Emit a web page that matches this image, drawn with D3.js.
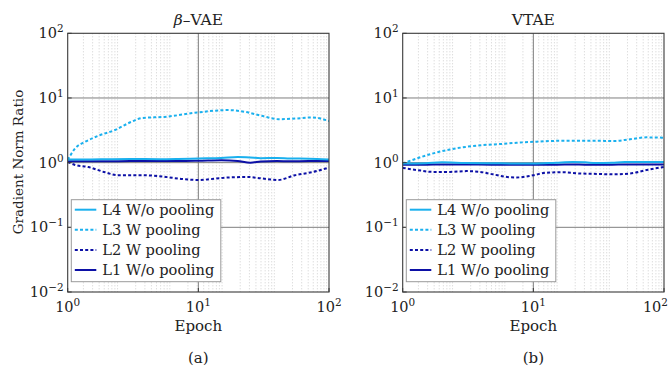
<!DOCTYPE html>
<html><head><meta charset="utf-8">
<script src="https://cdn.jsdelivr.net/npm/d3@7"></script>
<style>
body{margin:0;background:#fff;}
svg{display:block;}
text{font-family:"DejaVu Serif",serif;fill:#222;}
</style></head>
<body><svg id="c" width="669" height="371"></svg>
<script>
// ---- data ----
const panelTitles = ["β–VAE", "VTAE"];
const panelCaptions = ["(a)", "(b)"];
const seriesNames = ["L4 W/o pooling", "L3 W pooling", "L2 W pooling", "L1 W/o pooling"];
const yTickValues = [1e-2, 1e-1, 1e0, 1e1, 1e2];
const xTickValues = [1e0, 1e1, 1e2];

// beta-VAE
const betaL4Epochs = [1,1.5,2,3,5,7,10,15,20,25,30,40,50,70,100];
const betaL4 = [1.12,1.12,1.13,1.14,1.13,1.14,1.16,1.18,1.22,1.2,1.17,1.18,1.16,1.15,1.12];
const betaL3Epochs = [1,1.14,1.36,1.71,2.3,3.09,3.7,5.5,10,16.9,22.7,30.5,40.9,54.8,73.6,100];
const betaL3 = [1.1,1.66,2.1,2.6,3.2,4.3,4.9,5.1,6.0,6.5,6.1,5.3,4.7,4.8,5.0,4.4];
const betaL2Epochs = [1,1.14,1.44,1.93,2.44,3.7,5.5,7.4,10,16.9,24,30.5,40.9,54.8,73.6,100];
const betaL2 = [1.03,0.92,0.855,0.71,0.64,0.64,0.605,0.56,0.54,0.59,0.6,0.57,0.54,0.64,0.71,0.84];
const betaL1Epochs = [1,1.5,2,3,5,7,10,15,20,25,30,40,50,70,100];
const betaL1 = [1.05,1.05,1.05,1.06,1.06,1.06,1.07,1.09,1.06,1.0,1.04,1.06,1.05,1.06,1.06];

// VTAE
const vtaeL4Epochs = [1,1.5,2,3,5,7,10,15,20,25,30,40,50,70,100];
const vtaeL4 = [0.97,0.98,1.01,0.99,0.98,0.97,0.97,1.0,1.02,1.01,0.99,1.0,1.02,1.02,1.02];
const vtaeL3Epochs = [1,1.28,1.71,2.3,3.09,4.14,5.55,7.45,10,16.9,30.5,41,55,73.6,100];
const vtaeL3 = [0.97,1.16,1.39,1.6,1.76,1.87,1.94,2.03,2.1,2.18,2.18,2.16,2.3,2.46,2.43];
const vtaeL2Epochs = [1,1.28,1.71,2.3,3.09,3.9,4.9,6.3,7.45,10,12.6,16.9,22.7,30.5,41,55,73.6,100];
const vtaeL2 = [0.83,0.77,0.72,0.72,0.74,0.72,0.66,0.6,0.59,0.64,0.7,0.71,0.68,0.67,0.66,0.68,0.77,0.86];
const vtaeL1Epochs = [1,1.5,2,3,5,7,10,15,20,25,30,40,50,70,100];
const vtaeL1 = [0.93,0.93,0.94,0.94,0.93,0.93,0.93,0.93,0.94,0.93,0.93,0.93,0.94,0.94,0.94];

// ---- styles ----
const lightBlue = "#1ab0ee", darkBlue = "#0c10a6";
const seriesStyles = [
  {color: lightBlue, dash: null},
  {color: lightBlue, dash: "3,2.2"},
  {color: darkBlue, dash: "3,2.2"},
  {color: darkBlue, dash: null}
];
const panels = [
  {left: 67.7, data: [[betaL4Epochs,betaL4],[betaL3Epochs,betaL3],[betaL2Epochs,betaL2],[betaL1Epochs,betaL1]]},
  {left: 402.7, data: [[vtaeL4Epochs,vtaeL4],[vtaeL3Epochs,vtaeL3],[vtaeL2Epochs,vtaeL2],[vtaeL1Epochs,vtaeL1]]}
];
const W = 261.3, plotTop = 33.3, plotBottom = 292;

const svg = d3.select("#c");

function sup(sel, base, exp) {
  sel.append("tspan").text(base);
  sel.append("tspan").attr("dy", -6).attr("font-size", "0.72em").text(exp);
}
function expStr(v){ const e = Math.round(Math.log10(v)); return e < 0 ? "−" + (-e) : String(e); }

panels.forEach((p, pi) => {
  const x = d3.scaleLog().domain([1, 100]).range([p.left, p.left + W]);
  const y = d3.scaleLog().domain([1e-2, 1e2]).range([plotBottom, plotTop]);
  const g = svg.append("g");
  const clipId = "clip" + pi;
  svg.append("clipPath").attr("id", clipId).append("rect")
    .attr("x", p.left).attr("y", plotTop).attr("width", W).attr("height", plotBottom - plotTop);

  // minor grid (dotted) — sub-grid of a finer log scale
  const xMinor = d3.scaleLog().domain([1, 1e5]).range([p.left, p.left + W]);
  const minorVals = [];
  for (let j = 0; j < 5; j++) for (let k = 2; k <= 9; k++) minorVals.push(k * Math.pow(10, j));
  g.selectAll(".mg").data(minorVals).enter().append("line")
    .attr("x1", d => xMinor(d)).attr("x2", d => xMinor(d))
    .attr("y1", plotTop).attr("y2", plotBottom)
    .attr("stroke", "#c4c4c4").attr("stroke-width", 0.8).attr("stroke-dasharray", "1,2");

  // major grid
  g.selectAll(".gx").data([10]).enter().append("line")
    .attr("x1", d => x(d)).attr("x2", d => x(d)).attr("y1", plotTop).attr("y2", plotBottom)
    .attr("stroke", "#707070").attr("stroke-width", 0.9);
  g.selectAll(".gy").data([1e-1, 1e0, 1e1]).enter().append("line")
    .attr("y1", d => y(d)).attr("y2", d => y(d)).attr("x1", p.left).attr("x2", p.left + W)
    .attr("stroke", "#707070").attr("stroke-width", 0.9);

  // lines
  const line = d3.line().x(d => x(d[0])).y(d => y(d[1])).curve(d3.curveMonotoneX);
  [3, 0, 2, 1].forEach(si => {
    const [ep, vals] = p.data[si];
    const pts = ep.map((e, i) => [e, vals[i]]);
    g.append("path").attr("d", line(pts)).attr("fill", "none")
      .attr("clip-path", `url(#${clipId})`)
      .attr("stroke", seriesStyles[si].color)
      .attr("stroke-width", 2)
      .attr("stroke-dasharray", seriesStyles[si].dash);
  });

  // frame
  g.append("rect").attr("x", p.left).attr("y", plotTop).attr("width", W).attr("height", plotBottom - plotTop)
    .attr("fill", "none").attr("stroke", "#3a3a3a").attr("stroke-width", 1.1);

  // y ticks
  yTickValues.forEach(v => {
    const t = g.append("text").attr("x", p.left - 4).attr("y", y(v) + 5)
      .attr("text-anchor", "end").attr("font-size", 14.5);
    sup(t, "10", expStr(v));
    g.append("line").attr("x1", p.left).attr("x2", p.left + 4).attr("y1", y(v)).attr("y2", y(v))
      .attr("stroke", "#3a3a3a");
  });
  // x ticks
  xTickValues.forEach((v, i) => {
    const last = (pi === 1 && i === xTickValues.length - 1);
    const t = g.append("text").attr("x", last ? 668 : x(v)).attr("y", 311.5)
      .attr("text-anchor", last ? "end" : "middle").attr("font-size", 14.5);
    sup(t, "10", expStr(v));
    g.append("line").attr("x1", x(v)).attr("x2", x(v)).attr("y1", plotBottom).attr("y2", plotBottom - 4)
      .attr("stroke", "#3a3a3a");
  });

  const cx = p.left + W / 2;
  g.append("text").attr("x", cx).attr("y", 331).attr("text-anchor", "middle")
    .attr("font-size", 15).attr("fill", "#333").text("Epoch");
  g.append("text").attr("x", cx).attr("y", 363).attr("text-anchor", "middle")
    .attr("font-size", 15).text(panelCaptions[pi]);

  // title
  const tt = g.append("text").attr("x", cx).attr("y", 25).attr("text-anchor", "middle").attr("font-size", 15.5);
  if (pi === 0) {
    tt.append("tspan").attr("font-style", "italic").text("β");
    tt.append("tspan").text("–VAE");
  } else tt.text(panelTitles[pi]);

  // legend
  const lx = p.left + 3.6, ly = 199.7, lw = 149.5, lh = 82;
  const lg = g.append("g");
  lg.append("rect").attr("x", lx).attr("y", ly).attr("width", lw).attr("height", lh)
    .attr("fill", "#fff").attr("stroke", "#9a9a9a").attr("stroke-width", 1);
  seriesNames.forEach((n, i) => {
    const yy = ly + 10 + i * 20.1;
    lg.append("line").attr("x1", lx + 3.5).attr("x2", lx + 25).attr("y1", yy).attr("y2", yy)
      .attr("stroke", seriesStyles[i].color).attr("stroke-width", 2)
      .attr("stroke-dasharray", seriesStyles[i].dash);
    lg.append("text").attr("x", lx + 31).attr("y", yy + 5).attr("font-size", 14.6).text(n);
  });
});

// y axis label
svg.append("text").attr("transform", "translate(23,162) rotate(-90)")
  .attr("text-anchor", "middle").attr("font-size", 13.5).attr("fill", "#333").text("Gradient Norm Ratio");
</script></body></html>
